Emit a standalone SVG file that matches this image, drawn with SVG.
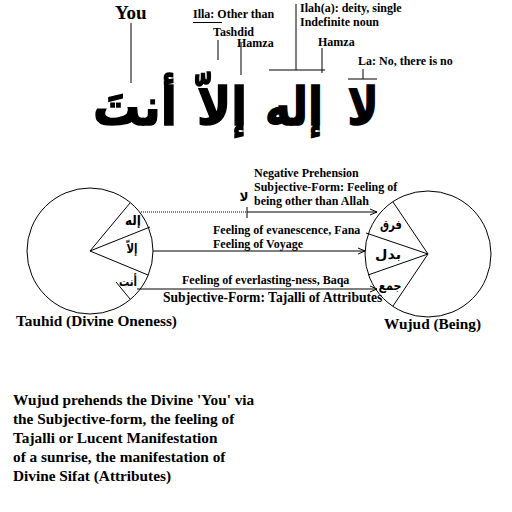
<svg xmlns="http://www.w3.org/2000/svg" width="512" height="512" viewBox="0 0 512 512">
<style>
.t{font-family:"Liberation Serif","Times New Roman",serif;font-weight:bold;fill:#000}
.s{font-size:12px}
.m{font-size:15.3px}
.ar{font-family:"DejaVu Sans",sans-serif;font-weight:bold;fill:#000}
.ln{stroke:#000;stroke-width:1;fill:none}
</style>
<defs>
<marker id="ah" viewBox="0 0 8 8" refX="7" refY="4" markerWidth="8" markerHeight="8" markerUnits="userSpaceOnUse" orient="auto">
<path d="M0,1 L7,4 L0,7" fill="none" stroke="#000" stroke-width="1"/>
</marker>
</defs>
<rect width="512" height="512" fill="#fff"/>

<g id="heading">
<text class="t" x="115" y="19" style="font-size:19px">You</text>
<text class="t s" x="193" y="18">Illa: Other than</text>
<text class="t s" x="213" y="36">Tashdid</text>
<text class="t s" x="237" y="47">Hamza</text>
<text class="t s" x="300" y="12">Ilah(a): deity, single</text>
<text class="t s" x="300" y="26">Indefinite noun</text>
<text class="t s" x="318" y="46">Hamza</text>
<text class="t s" x="358" y="65">La: No, there is no</text>
<g class="ln">
<line x1="193" y1="22.5" x2="222" y2="22.5"/>
<line x1="131" y1="23" x2="131" y2="83"/>
<line x1="218" y1="40" x2="218" y2="60"/>
<line x1="241" y1="43" x2="241" y2="75"/>
<line x1="296" y1="4" x2="296" y2="70"/>
<line x1="269" y1="70" x2="325" y2="70"/>
<line x1="322" y1="48" x2="322" y2="73"/>
<line x1="363" y1="69" x2="363" y2="79"/>
<line x1="348" y1="79" x2="377" y2="79"/>
</g>
<g class="ar" style="font-size:52px;stroke:#000;stroke-width:1.5" text-anchor="middle">
<text x="363" y="125" textLength="31" lengthAdjust="spacingAndGlyphs">لا</text>
<text x="294" y="125" textLength="58" lengthAdjust="spacingAndGlyphs">إله</text>
<text x="222" y="125" textLength="50" lengthAdjust="spacingAndGlyphs">إلاّ</text>
<text x="135" y="125" textLength="84" lengthAdjust="spacingAndGlyphs">أنتَ</text>
</g>
</g>

<g id="tauhid">
<circle class="ln" cx="90" cy="251" r="63" fill="#fff"/>
<g class="ln">
<line x1="90" y1="251" x2="130" y2="203"/>
<line x1="90" y1="251" x2="150" y2="227"/>
<line x1="90" y1="251" x2="148" y2="275"/>
<line x1="116" y1="282" x2="130" y2="299"/>
</g>
<g class="ar" style="font-size:13px" text-anchor="middle">
<text x="133" y="225" textLength="16" lengthAdjust="spacingAndGlyphs">إله</text>
<text x="132" y="253" textLength="11" lengthAdjust="spacingAndGlyphs">إلاّ</text>
<text x="128" y="286" textLength="18" lengthAdjust="spacingAndGlyphs">أنت</text>
</g>
<text class="t m" x="16" y="326">Tauhid (Divine Oneness)</text>
</g>

<g id="wujud">
<circle class="ln" cx="428" cy="254" r="63" fill="#fff"/>
<g class="ln">
<line x1="428" y1="254" x2="393" y2="202"/>
<line x1="428" y1="254" x2="366" y2="233"/>
<line x1="428" y1="254" x2="368" y2="275"/>
<line x1="428" y1="254" x2="393" y2="306"/>
</g>
<g class="ar" style="font-size:13px" text-anchor="middle">
<text x="391" y="229" textLength="22" lengthAdjust="spacingAndGlyphs">فرق</text>
<text x="388" y="259" textLength="26" lengthAdjust="spacingAndGlyphs">بدل</text>
<text x="390" y="290" textLength="23" lengthAdjust="spacingAndGlyphs">جمع</text>
</g>
<text class="t m" x="384" y="329">Wujud (Being)</text>
</g>

<g id="connectors">
<line class="ln" x1="141" y1="212" x2="247" y2="212" stroke-dasharray="1,1"/>
<line class="ln" x1="247" y1="212" x2="377" y2="212" marker-end="url(#ah)"/>
<line class="ln" x1="247" y1="207" x2="247" y2="218"/>
<line class="ln" x1="153" y1="251" x2="365" y2="251" marker-end="url(#ah)"/>
<line class="ln" x1="137" y1="289" x2="377" y2="289" marker-end="url(#ah)"/>
</g>

<g id="labels">
<text class="ar" x="244" y="201" text-anchor="middle" style="font-size:12px">لا</text>
<text class="t s" x="254" y="177">Negative Prehension</text>
<text class="t s" x="254" y="191">Subjective-Form: Feeling of</text>
<text class="t s" x="254" y="205">being other than Allah</text>
<text class="t s" x="213" y="234">Feeling of evanescence, Fana</text>
<text class="t s" x="213" y="248">Feeling of Voyage</text>
<text class="t s" x="182" y="284">Feeling of everlasting-ness, Baqa</text>
<text class="t" x="163" y="302" style="font-size:13.6px">Subjective-Form: Tajalli of Attributes</text>
</g>

<g id="caption" class="t m">
<text x="13" y="405">Wujud prehends the Divine 'You' via</text>
<text x="13" y="424">the Subjective-form, the feeling of</text>
<text x="13" y="443">Tajalli or Lucent Manifestation</text>
<text x="13" y="462">of a sunrise, the manifestation of</text>
<text x="13" y="481">Divine Sifat (Attributes)</text>
</g>
</svg>
